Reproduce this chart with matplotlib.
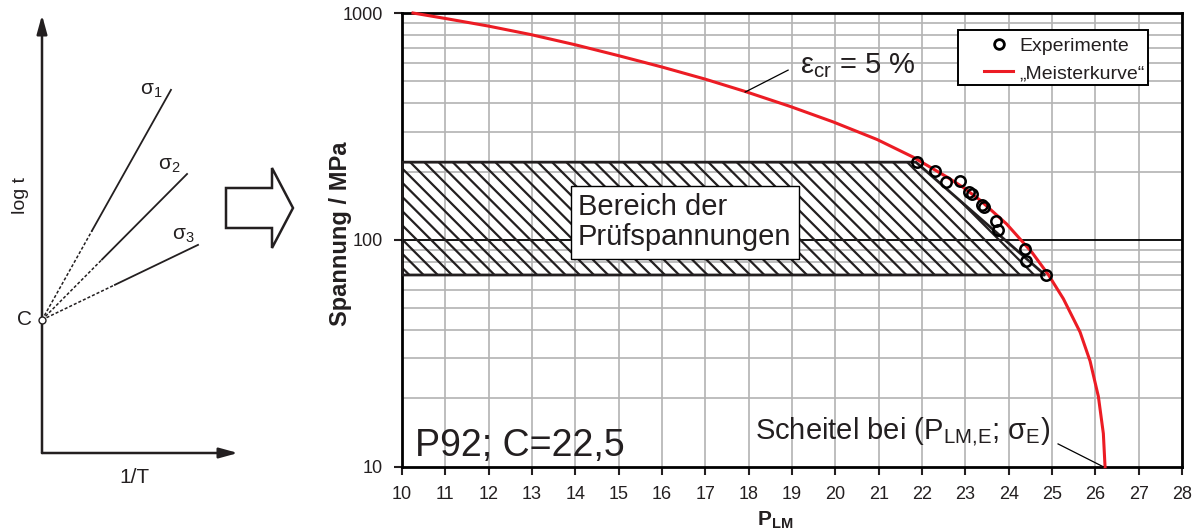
import matplotlib
matplotlib.use("Agg")
import matplotlib.pyplot as plt
import numpy as np
from matplotlib.patches import Polygon, Rectangle
from matplotlib.collections import LineCollection
from matplotlib.lines import Line2D

plt.rcParams['font.family'] = ['Liberation Sans', 'DejaVu Sans']
plt.rcParams['mathtext.fontset'] = 'custom'
plt.rcParams['mathtext.rm'] = 'Liberation Sans'
plt.rcParams['mathtext.it'] = 'Liberation Sans:italic'
plt.rcParams['mathtext.bf'] = 'Liberation Sans:bold'

# ---------------- data ----------------
P_exp = [21.88, 22.30, 22.55, 22.88, 23.09, 23.16, 23.38, 23.43, 23.71, 23.76, 24.37, 24.41, 24.86]
sigma_exp = [220.9, 201.6, 180.3, 181.6, 162.4, 159.1, 142.3, 139.4, 121.5, 110.6, 91.0, 80.5, 69.9]

P_curve = [10.254, 10.992, 11.985, 12.977, 13.993, 14.985, 16.000, 16.993, 17.916, 18.954,
           19.947, 20.962, 21.793, 22.578, 22.954, 23.339, 23.956, 24.533, 24.916, 25.262,
           25.648, 25.879, 26.070, 26.185, 26.224]
sigma_curve = [1000, 946.6, 876.4, 803.0, 724.7, 649.5, 577.9, 511.3, 451.1, 387.6,
               331.2, 277.0, 231.7, 189.1, 170.1, 149.7, 117.3, 88.3, 70.2, 55.0,
               39.2, 29.2, 20.4, 14.0, 10.0]

band_sigma = [70, 220]           # Bereich der Prüfspannungen (low, high)
band_P_right = [24.84, 21.86]    # right edge at low / high stress
band_P_left = 10

x_ticks = list(range(10, 29))
y_ticks = [10, 100, 1000]
y_ticklabels = ['10', '100', '1000']

# schematic (log t vs 1/T)
C_logt = 0.304
sigma_slopes = [0.798, 0.45, 0.215]
sigma_dash_end = [0.255, 0.306, 0.372]
sigma_line_end = [0.658, 0.740, 0.796]
sigma_names = ['σ$_1$', 'σ$_2$', 'σ$_3$']

W, H = 1196, 529
fig = plt.figure(figsize=(W / 100, H / 100), dpi=100)

TXT = '#231f20'
RED = '#ec1c24'
GRID = '#b3b3b3'

# ---------------- main chart ----------------
AX_L, AX_R, AX_T, AX_B = 402, 1182, 13, 466.7
AW, AH = AX_R - AX_L, AX_B - AX_T
ax = fig.add_axes([AX_L / W, 1 - AX_B / H, AW / W, AH / H])
ax.set_yscale('log')
ax.set_xlim(10, 28)
ax.set_ylim(10, 1000)
ax.set_xticks(x_ticks)
ax.set_xticklabels([str(t) for t in x_ticks])
ax.set_yticks(y_ticks)
ax.set_yticklabels(y_ticklabels)
ax.yaxis.set_minor_locator(matplotlib.ticker.LogLocator(base=10, subs=np.arange(2, 10)))
ax.yaxis.set_minor_formatter(matplotlib.ticker.NullFormatter())
ax.tick_params(axis='y', which='minor', length=0)
ax.tick_params(axis='both', which='major', labelsize=13, length=6, width=1.5,
               direction='out', pad=8, colors=TXT)
ax.grid(True, axis='x', which='major', color=GRID, lw=1.2, zorder=0)
ax.grid(True, axis='y', which='minor', color=GRID, lw=1.2, zorder=0)
ax.axhline(100, color='black', lw=1.3, zorder=1)
ax.set_axisbelow(True)
for s in ax.spines.values():
    s.set_linewidth(2)
    s.set_color('black')

# hatched band
verts = [(band_P_left, band_sigma[0]), (band_P_right[0], band_sigma[0]),
         (band_P_right[1], band_sigma[1]), (band_P_left, band_sigma[1])]
poly = Polygon(verts, closed=True, fill=False, ec='#231f20', lw=2, zorder=3)
ax.add_patch(poly)
dx = 14.2 / AW
hh = AH / AW
segs = [[(x0, 1.0), (x0 + hh, 0.0)] for x0 in np.arange(-1.0, 1.2, dx)]
lc = LineCollection(segs, colors='#231f20', linewidths=1.6, transform=ax.transAxes, zorder=2)
lc.set_clip_path(poly)
ax.add_collection(lc)

# master curve + experiments
ax.plot(P_curve, sigma_curve, color=RED, lw=2.2, zorder=4, clip_on=False)
ax.plot(P_exp, sigma_exp, ls='none', marker='o', ms=7.5, mfc='none', mec='black', mew=1.8, zorder=5)

# text box
ax.text(14.06, 119.5, 'Bereich der\nPrüfspannungen', fontsize=21, color=TXT, ha='left', va='center',
        linespacing=1.1, zorder=6,
        bbox=dict(boxstyle='square,pad=0.25', fc='white', ec='black', lw=1))

ax.text(10.3, 11.2, 'P92; C=22,5', fontsize=27, color=TXT, ha='left', va='baseline', zorder=6)

# epsilon annotation
ax.plot([18.91, 17.92], [560, 448.3], color='black', lw=0.9, zorder=6)
ax.text(19.185, 589, 'ε$_{\\mathrm{cr}}$ = 5 %', fontsize=21, color=TXT, ha='left', va='center', zorder=6)

# vertex annotation
ax.plot([25.14, 26.18], [12.6, 10.0], color='black', lw=0.9, zorder=6, clip_on=False)
ax.text(18.15, 13.3, 'Scheitel bei (P$_{\\mathrm{LM{,}E}}$; σ$_{\\mathrm{E}}$)', fontsize=21, color=TXT,
        ha='left', va='baseline', zorder=6)

# legend
lx0, lx1, ly1, ly0 = 958, 1148, 30, 85
ax.add_patch(Rectangle(((lx0 - AX_L) / AW, (AX_B - ly0) / AH), (lx1 - lx0) / AW, (ly0 - ly1) / AH,
                       transform=ax.transAxes, fc='white', ec='black', lw=1.4, zorder=6))
h1 = Line2D([], [], ls='none', marker='o', ms=7, mfc='none', mec='black', mew=2)
h2 = Line2D([], [], color=RED, lw=2.2)
leg = ax.legend([h1, h2], ['Experimente', '„Meisterkurve“'], loc='upper left',
                bbox_to_anchor=((985 - AX_L) / AW - 0.011, (AX_B - 29.5) / AH), frameon=False,
                fontsize=14, handlelength=1.5, handletextpad=0.3, labelspacing=0.5, borderaxespad=0)
leg.set_zorder(7)
for t in leg.get_texts():
    t.set_color(TXT)

ax.set_ylabel('Spannung / MPa', fontsize=17, fontweight='bold', color=TXT)
ax.yaxis.set_label_coords(-0.064, 0.514)
ax.set_xlabel('$\\mathbf{P_{LM}}$', fontsize=15, color=TXT)
ax.xaxis.set_label_coords(0.479, -0.095)

# ---------------- schematic ----------------
axs = fig.add_axes([42 / W, 1 - 453 / H, (238 - 42) / W, (453 - 15) / H])
axs.set_xlim(0, 1)
axs.set_ylim(0, 1)
axs.axis('off')
arrow_kw = dict(arrowstyle='-|>,head_length=0.8,head_width=0.22', lw=1.8, color=TXT,
                mutation_scale=14, shrinkA=0, shrinkB=0)
axs.annotate('', xy=(0, 1), xytext=(0, 0), arrowprops=arrow_kw, annotation_clip=False)
axs.annotate('', xy=(1, 0), xytext=(0, 0), arrowprops=arrow_kw, annotation_clip=False)
for k in range(3):
    xd = sigma_dash_end[k]
    xe = sigma_line_end[k]
    axs.plot([0, xd], [C_logt, C_logt + sigma_slopes[k] * xd], color=TXT, lw=1.1,
             ls=(0, (2, 1.3)), clip_on=False)
    axs.plot([xd, xe], [C_logt + sigma_slopes[k] * xd, C_logt + sigma_slopes[k] * xe], color=TXT,
             lw=1.3, clip_on=False)
axs.plot([0], [C_logt], marker='o', ms=5, mfc='white', mec=TXT, mew=1, clip_on=False, zorder=5)
sig_pos = [(0.5, 0.817), (0.592, 0.646), (0.663, 0.486)]
for (sx, sy), nm in zip(sig_pos, sigma_names):
    axs.text(sx, sy, nm, fontsize=15, color=TXT, ha='left', va='baseline')
axs.text(-0.112, 0.589, 'log t', fontsize=14, color=TXT, rotation=90, ha='center', va='center')
axs.text(0.474, -0.057, '1/T', fontsize=15, color=TXT, ha='center', va='center')
axs.text(-0.05, C_logt, 'C', fontsize=15, color=TXT, ha='right', va='center')

# block arrow (overlay in pixel units)
ov = fig.add_axes([0, 0, 1, 1], facecolor='none')
ov.set_xlim(0, W)
ov.set_ylim(H, 0)
ov.axis('off')
ov.add_patch(Polygon([(226, 188), (272, 188), (272, 168), (293, 208), (272, 248), (272, 228), (226, 228)],
                     closed=True, fc='white', ec=TXT, lw=1.8))

fig.savefig('out.png', dpi=100)
